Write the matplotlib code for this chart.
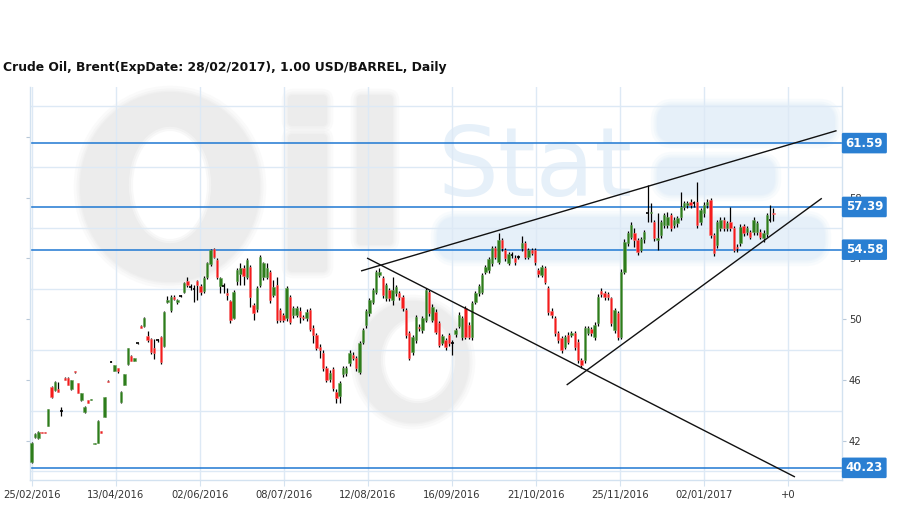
import matplotlib
matplotlib.use('Agg')
import matplotlib.pyplot as plt
from matplotlib.patches import Ellipse, FancyBboxPatch
from matplotlib.transforms import blended_transform_factory
import numpy as np

title = 'Crude Oil, Brent(ExpDate: 28/02/2017), 1.00 USD/BARREL, Daily'
tick_labels = ['25/02/2016', '13/04/2016', '02/06/2016', '08/07/2016', '12/08/2016',
               '16/09/2016', '21/10/2016', '25/11/2016', '02/01/2017', '+0']
label_step = 25.37   # bars between two date labels

opens = [40.63, 42.24, 42.17, 42.58, 42.58, 43.00, 45.57, 45.35, 45.41, 43.97,
         46.16, 46.16, 45.39, 46.60, 45.79, 44.69, 43.92, 44.69, 44.70, 41.80,
         41.88, 42.64, 43.60, 45.97, 47.20, 46.62, 46.78, 44.54, 45.68, 47.06,
         47.59, 47.26, 48.40, 49.58, 49.56, 48.90, 48.70, 48.09, 48.60, 48.81,
         48.27, 51.16, 50.61, 51.49, 51.12, 51.55, 51.82, 52.52, 52.10, 52.00,
         52.52, 52.19, 51.88, 52.76, 53.64, 54.60, 53.90, 52.19, 52.20, 51.71,
         51.20, 50.11, 52.52, 52.96, 53.40, 52.80, 53.42, 50.94, 50.68, 52.26,
         52.80, 52.80, 53.13, 51.60, 52.26, 50.61, 50.28, 50.06, 51.49, 50.28,
         50.28, 50.55, 50.14, 50.06, 50.61, 49.45, 48.97, 48.20, 47.80, 46.77,
         46.05, 46.71, 45.24, 44.96, 46.40, 46.49, 47.10, 47.65, 47.43, 46.55,
         48.53, 49.63, 50.39, 51.16, 51.82, 52.90, 52.70, 51.38, 51.93, 51.27,
         51.71, 51.71, 51.45, 50.61, 49.08, 47.87, 48.64, 49.52, 49.30, 49.95,
         51.82, 49.96, 50.50, 49.74, 48.46, 48.64, 48.97, 48.46, 49.03, 49.56,
         48.86, 50.72, 49.63, 48.86, 51.16, 51.75, 51.82, 53.13, 53.24, 53.68,
         54.67, 53.79, 55.22, 54.56, 53.73, 54.22, 54.06, 54.08, 54.67, 55.00,
         54.12, 54.56, 54.56, 53.24, 52.92, 53.35, 52.04, 50.57, 50.06, 49.12,
         48.75, 48.20, 49.00, 49.00, 49.08, 48.53, 47.32, 47.32, 49.12, 49.34,
         48.82, 49.74, 51.88, 51.71, 51.64, 51.38, 49.30, 50.39, 48.86, 53.13,
         55.00, 55.44, 55.70, 55.22, 54.56, 55.26, 56.95, 56.97, 56.42, 55.22,
         55.55, 56.20, 56.20, 56.86, 56.20, 56.31, 56.75, 57.41, 57.52, 57.74,
         57.62, 57.74, 56.42, 56.97, 57.52, 57.85, 55.55, 54.89, 55.98, 56.53,
         55.98, 56.42, 55.98, 54.78, 55.00, 56.14, 55.77, 55.77, 55.77, 55.77,
         55.77, 55.33, 55.61, 56.52, 56.97]

highs = [41.90, 42.50, 42.65, 42.60, 42.60, 44.10, 45.60, 45.92, 45.85, 44.25,
         46.20, 46.18, 46.02, 46.62, 45.82, 45.15, 44.28, 44.72, 44.78, 41.86,
         43.35, 42.66, 44.90, 46.00, 47.25, 47.02, 46.82, 45.26, 46.42, 48.12,
         47.62, 47.45, 48.45, 49.60, 50.14, 49.23, 48.80, 48.68, 48.70, 48.90,
         50.55, 51.53, 51.60, 51.60, 51.35, 51.60, 52.45, 52.80, 52.35, 52.26,
         52.60, 52.30, 52.85, 53.80, 54.65, 54.70, 54.05, 52.80, 52.40, 52.04,
         51.30, 51.90, 53.35, 53.68, 53.55, 54.05, 53.55, 51.10, 52.20, 54.20,
         53.80, 53.68, 53.25, 52.60, 52.80, 50.75, 50.40, 52.20, 51.60, 50.85,
         50.85, 50.83, 50.30, 50.65, 50.75, 49.60, 49.10, 48.35, 47.95, 46.90,
         46.65, 46.85, 45.40, 45.95, 46.90, 46.95, 47.95, 47.85, 47.60, 48.55,
         49.45, 50.70, 51.40, 52.05, 53.25, 53.35, 52.85, 52.40, 52.05, 52.80,
         52.25, 51.85, 51.60, 50.75, 49.20, 49.00, 50.30, 49.70, 50.20, 52.05,
         51.95, 51.00, 50.65, 49.90, 49.05, 48.80, 49.10, 48.64, 49.45, 50.45,
         50.20, 50.85, 49.80, 51.20, 51.85, 52.35, 53.05, 53.60, 54.10, 54.80,
         54.85, 55.66, 55.35, 54.70, 54.45, 54.40, 54.20, 54.25, 55.48, 55.15,
         54.70, 54.70, 54.70, 53.40, 53.60, 53.50, 52.20, 50.75, 50.20, 49.25,
         48.90, 49.00, 49.15, 49.20, 49.25, 48.70, 47.45, 49.55, 49.55, 49.50,
         49.80, 51.65, 52.05, 51.85, 51.80, 51.50, 50.75, 50.55, 53.30, 55.25,
         55.80, 56.42, 55.98, 55.35, 55.40, 55.90, 58.84, 57.67, 56.55, 56.97,
         56.55, 57.00, 57.08, 57.00, 56.70, 56.80, 58.40, 57.80, 57.80, 57.90,
         57.80, 59.05, 57.35, 57.70, 57.90, 58.00, 55.70, 56.55, 56.70, 56.70,
         56.45, 57.41, 56.15, 54.95, 56.25, 56.30, 56.15, 55.90, 56.70, 56.45,
         55.95, 55.85, 57.00, 57.52, 57.34]

lows = [40.55, 42.20, 42.15, 42.52, 42.53, 42.95, 44.85, 45.30, 45.20, 43.66,
        45.98, 45.65, 45.35, 46.50, 45.15, 44.65, 43.85, 44.50, 44.68, 41.78,
        41.85, 42.52, 43.55, 45.88, 47.17, 46.60, 46.45, 44.50, 45.65, 47.02,
        47.24, 47.24, 48.38, 49.43, 49.52, 48.50, 47.70, 47.39, 48.50, 47.05,
        48.15, 51.05, 50.50, 51.25, 51.00, 51.45, 51.70, 52.10, 51.90, 51.16,
        51.27, 51.60, 51.75, 52.65, 53.50, 54.00, 52.65, 51.70, 51.70, 51.27,
        49.73, 50.00, 52.26, 52.26, 52.26, 52.65, 50.83, 49.95, 50.50, 52.10,
        52.60, 52.65, 51.10, 51.45, 49.73, 49.80, 49.80, 49.90, 49.70, 50.10,
        50.15, 49.73, 49.95, 49.90, 49.20, 48.42, 47.95, 47.43, 46.60, 45.85,
        45.90, 45.30, 44.47, 44.47, 46.20, 46.30, 46.95, 47.30, 46.60, 46.40,
        48.40, 49.45, 50.20, 51.00, 51.65, 52.75, 51.40, 51.20, 51.20, 50.94,
        51.55, 51.30, 50.55, 48.80, 47.30, 47.65, 48.45, 49.25, 49.10, 49.80,
        50.20, 49.80, 49.05, 48.15, 48.30, 48.00, 48.25, 47.65, 48.85, 49.40,
        48.65, 48.70, 48.70, 48.65, 51.00, 51.55, 51.65, 52.95, 53.05, 53.50,
        53.95, 53.65, 54.50, 53.85, 53.55, 54.05, 53.60, 53.95, 54.50, 53.95,
        53.95, 54.20, 53.60, 52.80, 52.75, 52.30, 50.30, 50.10, 48.90, 48.45,
        47.80, 48.05, 48.35, 48.85, 48.00, 47.10, 46.80, 47.15, 48.95, 48.90,
        48.65, 49.55, 51.45, 51.30, 51.30, 49.55, 49.10, 48.65, 48.70, 52.95,
        54.80, 55.30, 54.78, 54.23, 54.40, 55.05, 56.42, 56.42, 55.15, 54.56,
        55.35, 56.00, 56.00, 55.80, 56.00, 56.10, 56.55, 57.20, 57.30, 57.30,
        57.40, 56.00, 56.20, 56.75, 57.30, 55.35, 54.15, 54.70, 55.80, 55.80,
        55.80, 55.80, 54.40, 54.45, 54.80, 55.45, 55.55, 55.25, 55.55, 55.55,
        55.25, 55.10, 55.40, 56.40, 56.47]

closes = [41.84, 42.45, 42.61, 42.54, 42.55, 44.08, 44.87, 45.90, 45.24, 43.98,
          46.00, 45.68, 46.00, 46.52, 45.17, 45.13, 44.25, 44.52, 44.75, 41.84,
          43.33, 42.55, 44.87, 45.90, 47.21, 46.99, 46.62, 45.24, 46.40, 48.09,
          47.26, 47.43, 48.42, 49.45, 50.11, 48.64, 47.83, 47.76, 48.62, 47.17,
          50.46, 51.27, 51.49, 51.34, 51.27, 51.52, 52.37, 52.26, 52.10, 52.01,
          52.26, 51.82, 52.74, 53.68, 54.56, 54.12, 52.80, 52.70, 52.21, 51.60,
          49.95, 51.77, 53.24, 53.40, 52.85, 53.90, 51.49, 50.39, 52.04, 54.08,
          53.68, 53.35, 51.27, 52.15, 49.95, 49.95, 49.95, 52.04, 49.84, 50.72,
          50.72, 50.17, 50.10, 50.50, 49.36, 48.97, 48.09, 48.00, 46.77, 46.00,
          46.49, 45.46, 44.80, 45.83, 46.77, 46.82, 47.80, 47.48, 46.77, 48.42,
          49.30, 50.57, 51.27, 51.93, 53.13, 53.13, 51.60, 52.26, 51.38, 51.93,
          52.10, 51.49, 50.75, 48.97, 47.43, 48.86, 50.17, 49.41, 50.06, 51.93,
          50.39, 50.83, 49.19, 48.31, 48.90, 48.20, 48.42, 48.47, 49.30, 50.28,
          50.06, 48.86, 48.86, 51.05, 51.71, 52.19, 52.92, 53.46, 53.95, 54.67,
          54.12, 55.22, 54.67, 54.01, 54.28, 54.23, 53.79, 54.09, 55.04, 54.12,
          54.56, 54.39, 53.79, 52.98, 53.46, 52.48, 50.50, 50.28, 49.08, 48.64,
          47.98, 48.86, 48.53, 49.08, 48.20, 47.32, 46.99, 49.41, 49.41, 49.12,
          49.63, 51.49, 51.64, 51.49, 51.49, 49.74, 50.61, 48.86, 53.13, 55.11,
          55.66, 56.20, 55.22, 54.45, 55.26, 55.77, 56.97, 57.08, 55.33, 55.33,
          56.42, 56.86, 56.71, 55.98, 56.53, 56.64, 57.41, 57.63, 57.63, 57.52,
          57.63, 56.20, 57.19, 57.52, 57.74, 55.55, 54.34, 56.42, 56.53, 55.98,
          56.31, 55.98, 54.56, 54.67, 56.09, 55.66, 55.98, 55.44, 56.53, 56.31,
          55.44, 55.66, 56.86, 56.53, 56.90]

levels = [61.59, 57.39, 54.58, 40.23]

# trend lines: (x0, x1) in bar index, (y0, y1) in price
upper_line_x, upper_line_y = [99.45, 243.06], [53.18, 62.41]
falling_line_x, falling_line_y = [101.27, 230.5], [54.03, 39.63]
support_line_x, support_line_y = [161.55, 238.6], [45.68, 57.96]

green = '#2d7d1b'
red = '#f51b1b'
grid_c = '#dde9f5'
level_c = '#1f78d2'

fig = plt.figure(figsize=(9.09, 5.09), dpi=100)

# watermark ("OilStat" logo) drawn in pixel space behind the chart
wm = fig.add_axes([0, 0, 1, 1], zorder=0)
wm.set_xlim(0, 909)
wm.set_ylim(509, 0)
wm.axis('off')
gray = '#ececec'
blue = '#e6f0f9'


def soft(patch_fn, color):
    # fake blur: wide faint halo layers, then the core shape
    for lw, a in [(9, 0.25), (5, 0.35), (2, 0.5)]:
        p = patch_fn()
        p.set_facecolor('none')
        p.set_edgecolor(color)
        p.set_linewidth(lw)
        p.set_alpha(a)
        wm.add_patch(p)
    p = patch_fn()
    p.set_facecolor(color)
    p.set_edgecolor('none')
    wm.add_patch(p)


def hole(patch_fn):
    for lw, a in [(6, 0.35), (3, 0.5)]:
        p = patch_fn()
        p.set_facecolor('none')
        p.set_edgecolor('white')
        p.set_linewidth(lw)
        p.set_alpha(a)
        wm.add_patch(p)
    p = patch_fn()
    p.set_facecolor('white')
    p.set_edgecolor('none')
    wm.add_patch(p)


soft(lambda: Ellipse((170, 187), 180, 190), gray)
hole(lambda: Ellipse((170, 185), 74, 108))
soft(lambda: FancyBboxPatch((288, 134), 39, 138, boxstyle='round,pad=0,rounding_size=5'), gray)
soft(lambda: FancyBboxPatch((288, 95), 39, 31, boxstyle='round,pad=0,rounding_size=5'), gray)
soft(lambda: FancyBboxPatch((357, 95), 36, 150, boxstyle='round,pad=0,rounding_size=5'), gray)
soft(lambda: Ellipse((413, 362), 112, 122), gray)
hole(lambda: Ellipse((418, 360), 66, 78))
soft(lambda: FancyBboxPatch((437, 217), 388, 43, boxstyle='round,pad=0,rounding_size=20'), blue)
soft(lambda: FancyBboxPatch((657, 105), 178, 37, boxstyle='round,pad=0,rounding_size=16'), blue)
soft(lambda: FancyBboxPatch((657, 158), 118, 37, boxstyle='round,pad=0,rounding_size=16'), blue)
wm.text(438, 196, 'Stat', fontsize=69, color=blue, va='baseline', ha='left',
        family='DejaVu Sans')

ax = fig.add_axes([30 / 909, 29 / 509, 812 / 909, 393.3 / 509], zorder=1)
ax.patch.set_alpha(0)

x = np.arange(len(opens))
o = np.array(opens)
h = np.array(highs)
l = np.array(lows)
c = np.array(closes)

ax.vlines(x, l, h, color='black', lw=0.9, zorder=3)
body_lo = np.minimum(o, c)
body_h = np.maximum(np.abs(c - o), 0.06)
doji = np.abs(c - o) < 0.03
cols = np.where(c >= o, green, red)
edge = np.where(c >= o, '#6fa860', '#ff7a7a')
ax.bar(x[~doji], body_h[~doji], bottom=body_lo[~doji], width=0.72,
       color=cols[~doji], edgecolor=edge[~doji], linewidth=0.4, zorder=4)
ax.hlines(c[doji], x[doji] - 0.4, x[doji] + 0.4, color='black', lw=1.2, zorder=4)

for lv in levels:
    ax.axhline(lv, color=level_c, lw=1.1, zorder=2)

for lx, ly in [(upper_line_x, upper_line_y), (falling_line_x, falling_line_y),
               (support_line_x, support_line_y)]:
    ax.plot(lx, ly, color='#111111', lw=1.0, zorder=5, solid_capstyle='butt')

ax.set_xlim(-0.51, 244.7)
ax.set_ylim(39.43, 65.30)

ax.set_xticks(np.arange(len(tick_labels)) * label_step)
ax.set_xticklabels(tick_labels)
ax.set_yticks([42, 46, 50, 54, 58, 62])
ax.set_yticks(np.arange(40, 65, 4), minor=True)
ax.grid(axis='x', which='major', color=grid_c, lw=1.0, zorder=0)
ax.grid(axis='y', which='minor', color=grid_c, lw=1.0, zorder=0)
ax.set_axisbelow(True)

ax.tick_params(axis='y', which='major', left=True, right=True, labelleft=False,
               labelright=True, length=3, width=0.8, color='#b8c8d8', pad=2,
               labelsize=7.2, labelcolor='#333333')
ax.tick_params(axis='y', which='minor', left=False, right=False, length=0)
ax.tick_params(axis='x', length=4, width=0.8, color='#d5e3f0', pad=3,
               labelsize=7.2, labelcolor='#333333')

for side in ['left', 'right', 'bottom']:
    ax.spines[side].set_color('#d3e2f0')
    ax.spines[side].set_linewidth(1.0)
ax.spines['top'].set_visible(False)

# price boxes sit on top of the right tick labels, as in the original
trans = blended_transform_factory(ax.transAxes, ax.transData)
for lv in levels:
    ax.annotate(f'{lv:.2f}', xy=(1.0, lv), xycoords=trans, xytext=(2.6, 0),
                textcoords='offset points', ha='left', va='center',
                fontsize=8.5, fontweight='bold', color='white', zorder=6,
                annotation_clip=False,
                bbox=dict(boxstyle='round,pad=0.32,rounding_size=0.12',
                          fc='#2a7fd2', ec='none'))

fig.text(3 / 909, 1 - 68 / 509, title, ha='left', va='center', fontsize=8.9,
         fontweight='bold', color='#111111')

fig.savefig('out.png', dpi=100)
